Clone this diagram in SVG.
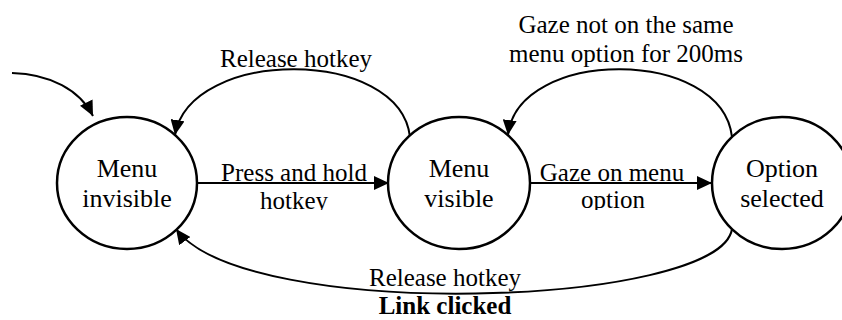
<svg xmlns="http://www.w3.org/2000/svg" width="842" height="320" viewBox="0 0 842 320">
  <style>
    .node { fill: #ffffff; stroke: #000000; stroke-width: 2.5; }
    .edge { fill: none; stroke: #000000; stroke-width: 2; marker-end: url(#arrow); }
    text { font-family: 'Liberation Serif', 'Times New Roman', serif; fill: #000000; text-anchor: middle; }
    .nlabel { font-size: 26px; }
    .elabel { font-size: 25px; }
    .bold { font-weight: bold; }
  </style>
  <defs>
    <marker id="arrow" markerUnits="userSpaceOnUse" markerWidth="16" markerHeight="14" refX="15" refY="7" orient="auto" viewBox="0 0 16 14">
      <path d="M0,0 L15,7 L0,14 z" fill="#000000"/>
    </marker>
    <clipPath id="clipLabels">
      <rect x="0" y="0" width="842" height="210"/>
    </clipPath>
  </defs>
  <rect x="0" y="0" width="842" height="320" fill="#ffffff"/>

  <g id="connectors">
    <path class="edge" d="M12,73 C50,74 80,90 93,116"/>
    <path class="edge" d="M197,183 L389,183"/>
    <path class="edge" d="M530,183 L712,183"/>
    <path class="edge" d="M410,137 C400,47 190,47 175,135"/>
    <path class="edge" d="M732,137 C722,47 518,47 508,135"/>
    <path class="edge" d="M732,229 C720,307 245,323 176,229"/>
    <g id="connector-labels">
      <text class="elabel" x="294" y="180.5">Press and hold</text>
      <text class="elabel" x="294" y="208.5" clip-path="url(#clipLabels)">hotkey</text>
      <text class="elabel" x="612" y="180.5">Gaze on menu</text>
      <text class="elabel" x="613" y="207.5" clip-path="url(#clipLabels)">option</text>
      <text class="elabel" x="296" y="67">Release hotkey</text>
      <text class="elabel" x="626" y="33">Gaze not on the same</text>
      <text class="elabel" x="626" y="62">menu option for 200ms</text>
      <text class="elabel" x="445" y="286">Release hotkey</text>
      <text class="elabel bold" x="445" y="314">Link clicked</text>
    </g>
  </g>

  <g id="menu-invisible">
    <ellipse class="node" cx="127" cy="183" rx="70" ry="66"/>
    <text class="nlabel" x="127" y="177">Menu</text>
    <text class="nlabel" x="127" y="207">invisible</text>
  </g>
  <g id="menu-visible">
    <ellipse class="node" cx="459" cy="183" rx="71" ry="66"/>
    <text class="nlabel" x="459" y="177">Menu</text>
    <text class="nlabel" x="459" y="207">visible</text>
  </g>
  <g id="option-selected">
    <ellipse class="node" cx="782" cy="183" rx="70" ry="66"/>
    <text class="nlabel" x="782" y="177">Option</text>
    <text class="nlabel" x="782" y="207">selected</text>
  </g>
</svg>
